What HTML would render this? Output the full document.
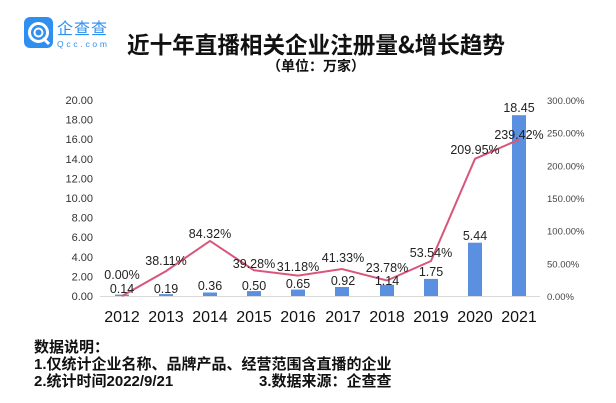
<!DOCTYPE html>
<html><head><meta charset="utf-8"><style>
html,body{margin:0;padding:0;background:#fff;}
svg{display:block;font-family:"Liberation Sans","Noto Sans CJK SC",sans-serif;}
</style></head><body>
<svg width="616" height="403" viewBox="0 0 616 403" xmlns="http://www.w3.org/2000/svg">
<rect width="616" height="403" fill="#fff"/>
<!-- logo -->
<rect x="24" y="17" width="29" height="31" rx="6" fill="#2f8ff0"/>
<circle cx="38.5" cy="32.5" r="9" fill="none" stroke="#fff" stroke-width="3"/>
<circle cx="38.5" cy="32.5" r="4" fill="none" stroke="#fff" stroke-width="2"/>
<line x1="43" y1="38" x2="49" y2="44" stroke="#fff" stroke-width="3"/>
<text x="57" y="34" font-size="16" fill="#2f8ff0" textLength="50" font-family="Noto Sans CJK SC,sans-serif">企查查</text>
<text x="57" y="47" font-size="8.5" fill="#2f8ff0" textLength="50">Qcc.com</text>
<!-- title -->
<text x="127" y="53" font-size="23" font-weight="bold" fill="#111" textLength="378" lengthAdjust="spacingAndGlyphs" font-family="Noto Sans CJK SC,sans-serif">近十年直播相关企业注册量&amp;增长趋势</text>
<text x="316" y="71" font-size="14" font-weight="bold" text-anchor="middle" fill="#111" font-family="Noto Sans CJK SC,sans-serif">（单位：万家）</text>
<!-- left axis -->
<g font-size="11" fill="#333" text-anchor="end">
<text x="93" y="300">0.00</text><text x="93" y="280.4">2.00</text><text x="93" y="260.8">4.00</text><text x="93" y="241.2">6.00</text><text x="93" y="221.6">8.00</text><text x="93" y="202">10.00</text><text x="93" y="182.4">12.00</text><text x="93" y="162.8">14.00</text><text x="93" y="143.2">16.00</text><text x="93" y="123.6">18.00</text><text x="93" y="104">20.00</text>
</g>
<g font-size="9.5" fill="#444">
<text x="547" y="300">0.00%</text><text x="547" y="267.3">50.00%</text><text x="547" y="234.7">100.00%</text><text x="547" y="202">150.00%</text><text x="547" y="169.3">200.00%</text><text x="547" y="136.7">250.00%</text><text x="547" y="104">300.00%</text>
</g>
<line x1="100" y1="296.5" x2="540" y2="296.5" stroke="#d9d9d9" stroke-width="1"/>
<!-- bars -->
<g fill="#5b8fe0">
<rect x="115" y="294.6" width="14" height="1.4"/>
<rect x="159" y="294.1" width="14" height="1.9"/>
<rect x="203" y="292.5" width="14" height="3.5"/>
<rect x="247" y="291.1" width="14" height="4.9"/>
<rect x="291" y="289.6" width="14" height="6.4"/>
<rect x="335" y="287" width="14" height="9"/>
<rect x="380" y="284.8" width="14" height="11.2"/>
<rect x="424" y="278.9" width="14" height="17.1"/>
<rect x="468" y="242.7" width="14" height="53.3"/>
<rect x="512" y="115.2" width="14" height="180.8"/>
</g>
<polyline fill="none" stroke="#d9567a" stroke-width="2" points="122,296 166,271.1 210,240.9 254,270.3 298,275.6 342,269 387,280.5 431,261 475,158.8 519,139.6"/>
<g font-size="12.5" fill="#222" text-anchor="middle">
<text x="122" y="279">0.00%</text>
<text x="166" y="265">38.11%</text>
<text x="210" y="238">84.32%</text>
<text x="254" y="268">39.28%</text>
<text x="298" y="271">31.18%</text>
<text x="343" y="262">41.33%</text>
<text x="387" y="272">23.78%</text>
<text x="431" y="257">53.54%</text>
<text x="475" y="154">209.95%</text>
<text x="519" y="139">239.42%</text>
<text x="122" y="293">0.14</text>
<text x="166" y="293">0.19</text>
<text x="210" y="290">0.36</text>
<text x="254" y="290">0.50</text>
<text x="298" y="288">0.65</text>
<text x="343" y="285">0.92</text>
<text x="387" y="285">1.14</text>
<text x="431" y="276">1.75</text>
<text x="475" y="240">5.44</text>
<text x="519" y="112">18.45</text>
</g>
<g font-size="16" fill="#111" text-anchor="middle">
<text x="122" y="322">2012</text><text x="166" y="322">2013</text><text x="210" y="322">2014</text><text x="254" y="322">2015</text><text x="298" y="322">2016</text><text x="343" y="322">2017</text><text x="387" y="322">2018</text><text x="431" y="322">2019</text><text x="475" y="322">2020</text><text x="519" y="322">2021</text>
</g>
<g font-size="15" font-weight="bold" fill="#111" font-family="Liberation Sans,Noto Sans CJK SC,sans-serif">
<text x="34" y="352">数据说明：</text>
<text x="34" y="369">1.仅统计企业名称、品牌产品、经营范围含直播的企业</text>
<text x="34" y="386">2.统计时间2022/9/21</text>
<text x="259" y="386">3.数据来源：企查查</text>
</g>
</svg>
</body></html>
